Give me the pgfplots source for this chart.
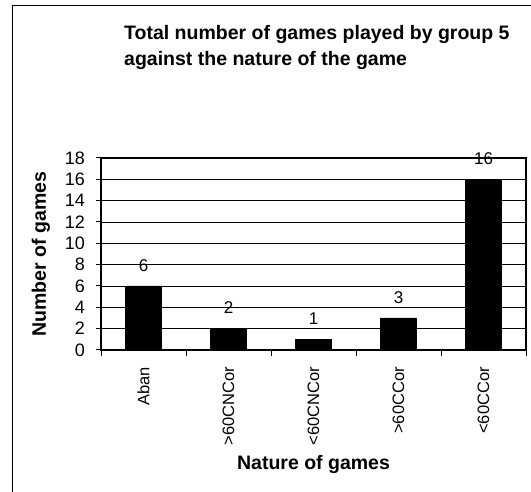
\documentclass[border=0pt]{standalone}
\usepackage{fontspec}
\setmainfont{Liberation Sans}
\usepackage{pgfplots}
\pgfplotsset{compat=1.18}
\newcommand{\tickfont}{\fontsize{17bp}{20bp}\selectfont}
\newcommand{\labfont}{\fontsize{19.5bp}{23bp}\selectfont\bfseries}
\begin{document}
\begin{tikzpicture}
\useasboundingbox (0,0) rectangle (531bp,492bp);
% outer frame (only left and top edges are visible)
\draw[line width=1.2bp] (12.5bp,-5bp) -- (12.5bp,486.5bp) -- (540bp,486.5bp);
\node[anchor=base west, inner sep=0pt, font=\labfont]
  at (124bp,452.5bp) {Total number of games played by group 5};
\node[anchor=base west, inner sep=0pt, font=\labfont]
  at (124bp,426.5bp) {against the nature of the game};
\begin{axis}[
  at={(101bp,142bp)}, anchor=south west,
  scale only axis, width=425bp, height=192bp,
  xmin=0, xmax=5, ymin=0, ymax=18,
  ytick={0,2,...,18},
  xtick={0.5,1.5,2.5,3.5,4.5},
  xticklabels={Aban,{>60CNCor},{<60CNCor},{>60CCor},{<60CCor}},
  minor xtick={0,1,2,3,4,5},
  tick align=outside, tick pos=left,
  major tick length=5bp, minor tick length=6bp,
  major x tick style={draw=none},
  every tick/.style={black, line width=1bp},
  minor x tick style={black, line width=1bp},
  axis line style={line width=1.8bp},
  ymajorgrids, grid style={black, line width=0.8bp},
  /pgf/number format/assume math mode=true,
  yticklabel style={font=\fontsize{18bp}{21bp}\selectfont, anchor=east, inner sep=0pt},
  yticklabel shift=11bp,
  xticklabel style={font=\fontsize{16.5bp}{20bp}\selectfont, rotate=90, anchor=east, inner sep=0pt},
  xticklabel shift=12bp,
  xlabel={Nature of games}, ylabel={Number of games},
  xlabel style={font=\labfont, at={(axis description cs:0.5,0)}, anchor=center, yshift=-115bp},
  ylabel style={font=\labfont, at={(axis description cs:0,0.5)}, anchor=center, yshift=60bp},
]
\addplot[ybar, bar width=36bp, fill=black, draw=black,
  nodes near coords,
  every node near coord/.style={font=\tickfont, anchor=south, inner sep=0pt, yshift=14.5bp},
  ] coordinates {(0.5,6) (1.5,2) (2.5,1) (3.5,3) (4.5,16)};
\end{axis}
\end{tikzpicture}
\end{document}
